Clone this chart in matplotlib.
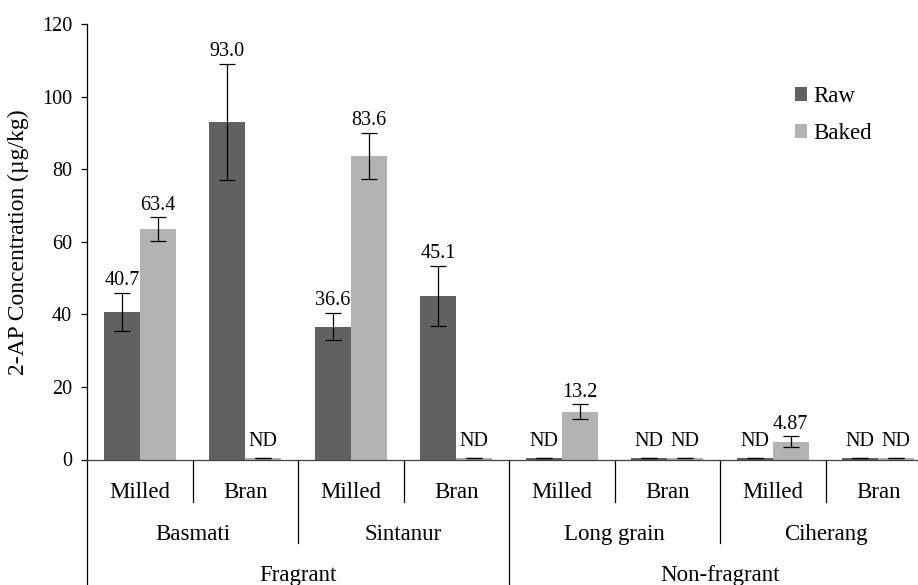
import numpy as np
import matplotlib
matplotlib.use("Agg")
import matplotlib.pyplot as plt

# datos del grafico
tipos = ["Milled", "Bran", "Milled", "Bran", "Milled", "Bran", "Milled", "Bran"]
variedades = ["Basmati", "Sintanur", "Long grain", "Ciherang"]
grupos = ["Fragrant", "Non-fragrant"]
crudo = [40.7, 93.0, 36.6, 45.1, 0, 0, 0, 0]          # Raw, 0 = ND
crudo_err = [5.3, 16.1, 3.7, 8.2, 0, 0, 0, 0]
horneado = [63.4, 0, 83.6, 0, 13.2, 0, 4.87, 0]        # Baked, 0 = ND
horneado_err = [3.3, 0, 6.4, 0, 2.0, 0, 1.5, 0]
etiq_crudo = ["40.7", "93.0", "36.6", "45.1", "ND", "ND", "ND", "ND"]
etiq_horneado = ["63.4", "ND", "83.6", "ND", "13.2", "ND", "4.87", "ND"]

plt.rcParams['font.family'] = ['Liberation Serif', 'DejaVu Serif']

fig = plt.figure(figsize=(9.18, 5.85), dpi=100)
ax = fig.add_axes([87/918, 125.5/585, 844/918, 435.5/585])

x = np.arange(len(tipos))
ancho = 0.34
col_crudo = '#616161'
col_horneado = '#b3b3b3'

# las barras ND se dibujan como una linea muy fina en la base
alto_crudo = np.where(np.array(crudo) == 0, 0.3, crudo)
alto_horneado = np.where(np.array(horneado) == 0, 0.3, horneado)

b1 = ax.bar(x - ancho/2, alto_crudo, ancho, color=col_crudo, label='Raw', zorder=2)
b2 = ax.bar(x + ancho/2, alto_horneado, ancho, color=col_horneado, label='Baked', zorder=2)
ax.errorbar(x - ancho/2, alto_crudo, yerr=crudo_err, fmt='none', ecolor='black',
            elinewidth=0.9, capsize=5.5, capthick=0.9, zorder=3)
ax.errorbar(x + ancho/2, alto_horneado, yerr=horneado_err, fmt='none', ecolor='black',
            elinewidth=0.9, capsize=5.5, capthick=0.9, zorder=3)

# etiquetas de valores
for xs, vals, errs, etqs in [(x - ancho/2, crudo, crudo_err, etiq_crudo),
                             (x + ancho/2, horneado, horneado_err, etiq_horneado)]:
    for xi, v, e, t in zip(xs, vals, errs, etqs):
        desp = 6 if t == "ND" else 2
        ax.annotate(t, (xi, v + e), xytext=(0, desp), textcoords='offset points',
                    ha='center', va='bottom', fontsize=14.5)

ax.set_xlim(-0.5, len(tipos) - 0.5)
ax.set_ylim(0, 120)
ax.set_yticks(np.arange(0, 121, 20))
ax.tick_params(axis='y', direction='out', length=4.3, width=0.9, pad=6.5, labelsize=14.5)
ax.set_xticks([])
ax.spines['top'].set_visible(False)
ax.spines['right'].set_visible(False)
ax.spines['left'].set_linewidth(0.9)
ax.spines['bottom'].set_linewidth(0.9)
ax.spines['bottom'].set_color('#404040')

# eje de categorias en varios niveles
trans = ax.get_xaxis_transform()
for i, t in enumerate(tipos):
    ax.text(i, -0.088, t, transform=trans, ha='center', va='baseline', fontsize=16.5)
for i, v in enumerate(variedades):
    ax.text(2*i + 0.5, -0.1848, v, transform=trans, ha='center', va='baseline', fontsize=16.5)
for i, g in enumerate(grupos):
    ax.text(4*i + 1.5, -0.278, g, transform=trans, ha='center', va='baseline', fontsize=16.5)

for k in range(len(tipos) + 1):
    borde = k - 0.5
    if k % 4 == 0:
        fondo = -0.32
    elif k % 2 == 0:
        fondo = -0.1917
    else:
        fondo = -0.0976
    ax.plot([borde, borde], [0, fondo], transform=trans, color='black', lw=0.9, clip_on=False)

fig.text(18/918, 1 - 242.5/585, "2-AP Concentration (µg/kg)", rotation=90,
         ha='center', va='center', fontsize=17)

fig.legend(handles=[b1, b2], loc='upper left', bbox_to_anchor=(795/918, 1 - 86/585),
           frameon=False, fontsize=16.5, handlelength=0.52, handleheight=0.52,
           handletextpad=0.3, labelspacing=0.7, borderpad=0, borderaxespad=0)

fig.savefig('out.png', dpi=100)
